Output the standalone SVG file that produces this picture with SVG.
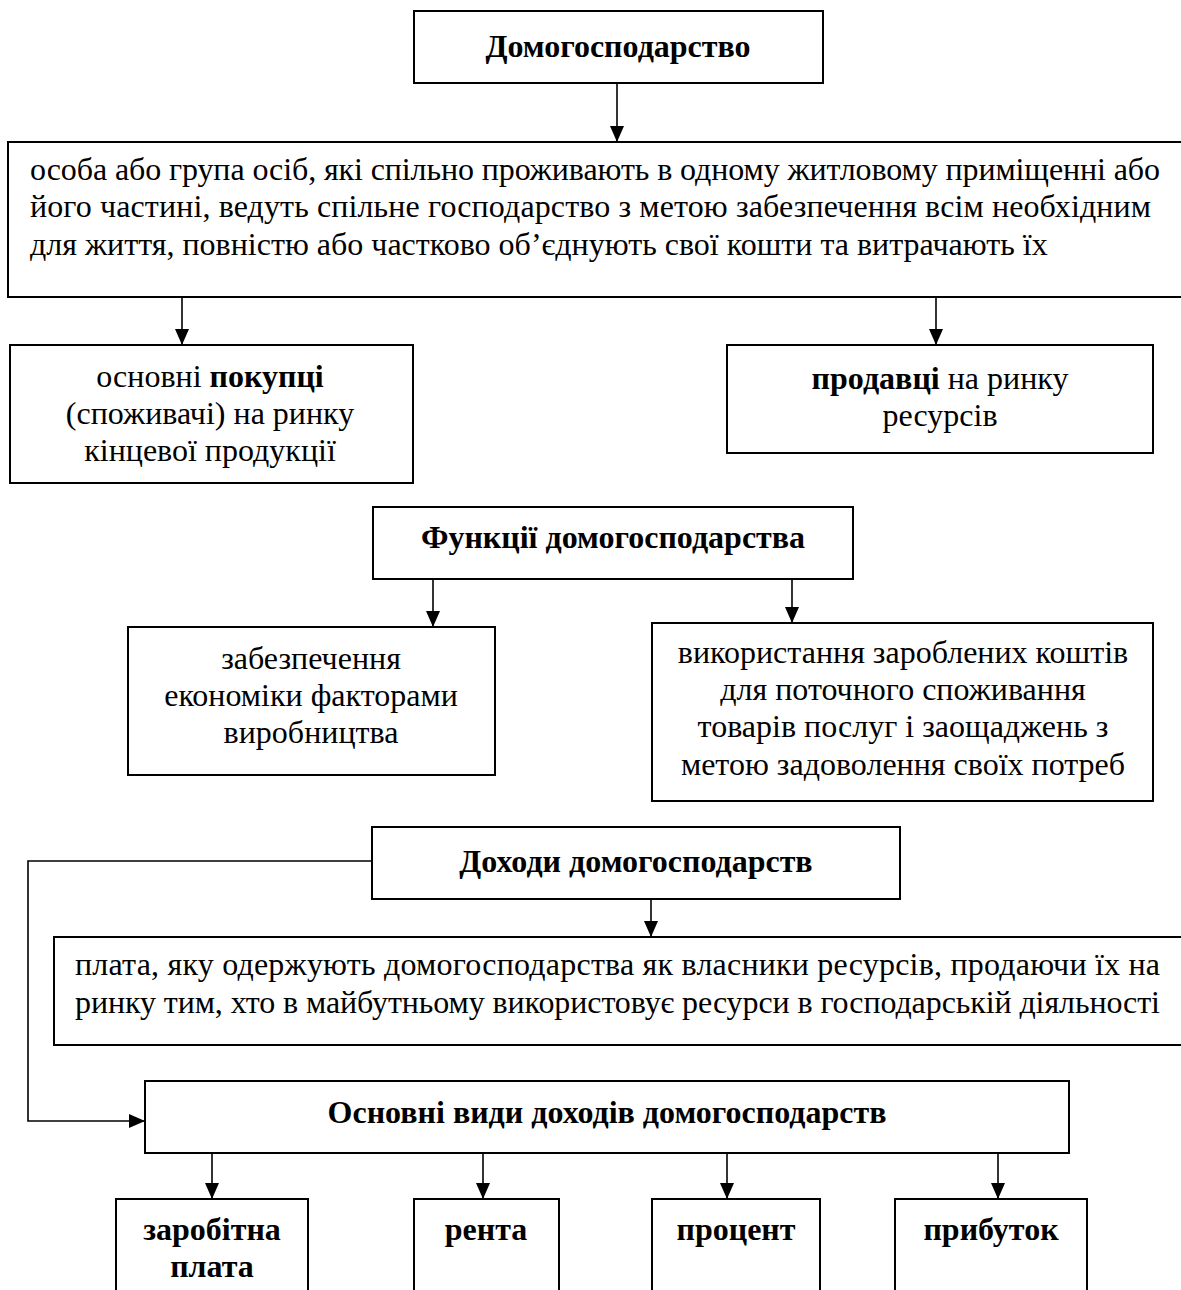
<svg xmlns="http://www.w3.org/2000/svg" width="1181" height="1290" viewBox="0 0 1181 1290">
<style>
.box{fill:#fff;stroke:#000;stroke-width:2}
.t{font-family:"Liberation Serif","Times New Roman",serif;font-size:32px;fill:#000}
.c{text-anchor:middle}
.b{font-weight:bold}
.ln{fill:none;stroke:#000;stroke-width:1.6}
</style>
<defs>
<marker id="ah" markerUnits="userSpaceOnUse" viewBox="0 0 16 14" markerWidth="16" markerHeight="14" refX="16" refY="7" orient="auto">
<path d="M0,0 L16,7 L0,14 z" fill="#000"/>
</marker>
</defs>
<rect width="1181" height="1290" fill="#fff"/>
<g id="connectors">
<line class="ln" x1="617" y1="83" x2="617" y2="142" marker-end="url(#ah)"/>
<line class="ln" x1="182" y1="297" x2="182" y2="345" marker-end="url(#ah)"/>
<line class="ln" x1="936" y1="297" x2="936" y2="345" marker-end="url(#ah)"/>
<line class="ln" x1="433" y1="579" x2="433" y2="627" marker-end="url(#ah)"/>
<line class="ln" x1="792" y1="579" x2="792" y2="623" marker-end="url(#ah)"/>
<line class="ln" x1="651" y1="899" x2="651" y2="937" marker-end="url(#ah)"/>
<polyline class="ln" points="372,861 28,861 28,1121 145,1121" marker-end="url(#ah)"/>
<line class="ln" x1="212" y1="1153" x2="212" y2="1199" marker-end="url(#ah)"/>
<line class="ln" x1="483" y1="1153" x2="483" y2="1199" marker-end="url(#ah)"/>
<line class="ln" x1="727" y1="1153" x2="727" y2="1199" marker-end="url(#ah)"/>
<line class="ln" x1="998" y1="1153" x2="998" y2="1199" marker-end="url(#ah)"/>
</g>
<g id="n1">
<rect class="box" x="414" y="11" width="409" height="72"/>
<text class="t b c" x="618" y="57">Домогосподарство</text>
</g>
<g id="n2">
<rect class="box" x="8" y="142" width="1190" height="155"/>
<text class="t" x="30" y="180" textLength="1130" lengthAdjust="spacing">особа або група осіб, які спільно проживають в одному житловому приміщенні або</text>
<text class="t" x="30" y="217" textLength="1121" lengthAdjust="spacing">його частині, ведуть спільне господарство з метою забезпечення всім необхідним</text>
<text class="t" x="30" y="255">для життя, повністю або частково об’єднують свої кошти та витрачають їх</text>
</g>
<g id="n3">
<rect class="box" x="10" y="345" width="403" height="138"/>
<text class="t c" x="210" y="387">основні <tspan class="b">покупці</tspan></text>
<text class="t c" x="210" y="424">(споживачі) на ринку</text>
<text class="t c" x="210" y="461">кінцевої продукції</text>
</g>
<g id="n4">
<rect class="box" x="727" y="345" width="426" height="108"/>
<text class="t c" x="940" y="389"><tspan class="b">продавці</tspan> на ринку</text>
<text class="t c" x="940" y="426">ресурсів</text>
</g>
<g id="n5">
<rect class="box" x="373" y="507" width="480" height="72"/>
<text class="t b c" x="613" y="548">Функції домогосподарства</text>
</g>
<g id="n6">
<rect class="box" x="128" y="627" width="367" height="148"/>
<text class="t c" x="311" y="669">забезпечення</text>
<text class="t c" x="311" y="706">економіки факторами</text>
<text class="t c" x="311" y="743">виробництва</text>
</g>
<g id="n7">
<rect class="box" x="652" y="623" width="501" height="178"/>
<text class="t c" x="903" y="663">використання зароблених коштів</text>
<text class="t c" x="903" y="700">для поточного споживання</text>
<text class="t c" x="903" y="737">товарів послуг і заощаджень з</text>
<text class="t c" x="903" y="775">метою задоволення своїх потреб</text>
</g>
<g id="n8">
<rect class="box" x="372" y="827" width="528" height="72"/>
<text class="t b c" x="636" y="872">Доходи домогосподарств</text>
</g>
<g id="n9">
<rect class="box" x="54" y="937" width="1140" height="108"/>
<text class="t" x="75" y="975" textLength="1085" lengthAdjust="spacing">плата, яку одержують домогосподарства як власники ресурсів, продаючи їх на</text>
<text class="t" x="75" y="1013" textLength="1085" lengthAdjust="spacing">ринку тим, хто в майбутньому використовує ресурси в господарській діяльності</text>
</g>
<g id="n10">
<rect class="box" x="145" y="1081" width="924" height="72"/>
<text class="t b c" x="607" y="1123">Основні види доходів домогосподарств</text>
</g>
<g id="n11">
<rect class="box" x="116" y="1199" width="192" height="110"/>
<text class="t b c" x="212" y="1240">заробітна</text>
<text class="t b c" x="212" y="1277">плата</text>
</g>
<g id="n12">
<rect class="box" x="414" y="1199" width="145" height="110"/>
<text class="t b c" x="486" y="1240">рента</text>
</g>
<g id="n13">
<rect class="box" x="652" y="1199" width="168" height="110"/>
<text class="t b c" x="736" y="1240">процент</text>
</g>
<g id="n14">
<rect class="box" x="895" y="1199" width="192" height="110"/>
<text class="t b c" x="991" y="1240">прибуток</text>
</g>
</svg>
